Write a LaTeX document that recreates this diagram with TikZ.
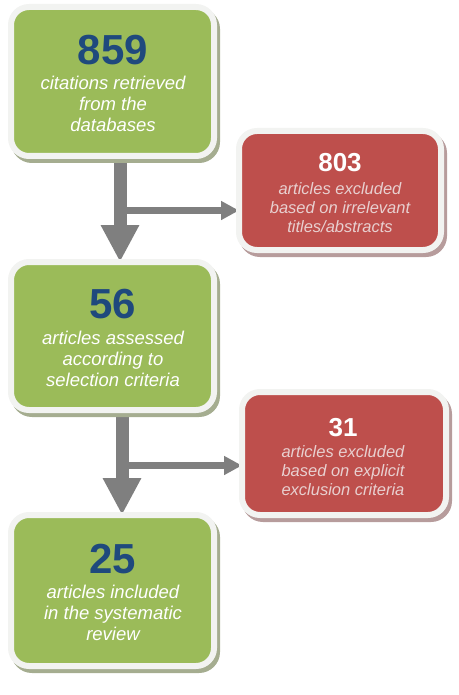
\documentclass[tikz,border=0pt]{standalone}
\usepackage{fontspec}
\setmainfont{Liberation Sans}
\usetikzlibrary{arrows.meta,shadows}
\pgfdeclarelayer{background}
\pgfsetlayers{background,main}
\definecolor{boxgreen}{HTML}{9BBB59}
\definecolor{boxred}{HTML}{BE4F4C}
\definecolor{frame}{HTML}{F2F3F1}
\definecolor{gshadow}{HTML}{A5AD90}
\definecolor{rshadow}{HTML}{B79C9C}
\definecolor{numblue}{HTML}{1F497D}
\definecolor{arrowgrey}{HTML}{7F7F7F}
\definecolor{redtext}{HTML}{E8D0D0}
\tikzset{
  box/.style={rectangle, rounded corners=18pt, line width=6pt, draw=frame, outer sep=0pt, inner sep=0pt},
  greenbox/.style={box, fill=boxgreen, drop shadow={shadow xshift=3pt, shadow yshift=-4pt, fill=gshadow, draw=gshadow, line width=6pt, opacity=1}},
  redbox/.style={box, fill=boxred, drop shadow={shadow xshift=3pt, shadow yshift=-4pt, fill=rshadow, draw=rshadow, line width=6pt, opacity=1}},
  gnum/.style={font=\fontsize{42}{42}\selectfont\bfseries, text=numblue, anchor=base, inner sep=0pt},
  rnum/.style={font=\fontsize{26}{26}\selectfont\bfseries, text=white, anchor=base, inner sep=0pt},
  gdesc/.style={font=\fontsize{18.5}{21}\selectfont\itshape, text=white, align=center, anchor=base, inner sep=0pt},
  rdesc/.style={font=\fontsize{16.5}{19}\selectfont\itshape, text=redtext, align=center, anchor=base, inner sep=0pt},
  bigarrow/.style={draw=arrowgrey, line width=13pt, -{Triangle[length=37pt,width=36pt]}, arrowgrey},
  sidearrow/.style={draw=arrowgrey, line width=7pt, -{Triangle[length=18pt,width=18pt]}, arrowgrey},
}
\begin{document}
\begin{tikzpicture}[x=1pt,y=1pt]
\useasboundingbox (0,0) rectangle (458,-695);
% coordinates for connectors
\coordinate (s1) at (120,-150);
\coordinate (j1) at (120,-210.5);
\coordinate (s2) at (122,-405);
\coordinate (j2) at (122,-465.5);
% boxes
\node[greenbox, minimum width=203pt, minimum height=149pt] (b1) at (112.5,-81.5) {};
\node[greenbox, minimum width=203pt, minimum height=148pt] (b2) at (112.5,-336) {};
\node[greenbox, minimum width=203pt, minimum height=151pt] (b3) at (112.5,-590.5) {};
\node[redbox, minimum width=202pt, minimum height=119pt] (r1) at (340,-190.5) {};
\node[redbox, minimum width=204pt, minimum height=123pt] (r2) at (344,-453.5) {};
% arrows behind the boxes
\begin{pgfonlayer}{background}
\draw[bigarrow] (s1) -- (s1 |- b2.north);
\draw[sidearrow] (j1) -- (j1 -| r1.west);
\draw[bigarrow] (s2) -- (s2 |- b3.north);
\draw[sidearrow] (j2) -- (j2 -| r2.west);
\end{pgfonlayer}
% texts
\node[gnum] (n1) at (113,-65) {859};
\node[gdesc] (d1) at (113,-132) {citations retrieved\\from the\\databases};
\node[rnum] (n2) at (340,-171.5) {803};
\node[rdesc] (d2) at (340,-232) {articles excluded\\based on irrelevant\\titles/abstracts};
\node[gnum] (n3) at (113,-318) {56};
\node[gdesc] (d3) at (113,-386) {articles assessed\\according to\\selection criteria};
\node[rnum] (n4) at (343,-436) {31};
\node[rdesc] (d4) at (343,-495.5) {articles excluded\\based on explicit\\exclusion criteria};
\node[gnum] (n5) at (113,-573) {25};
\node[gdesc] (d5) at (113,-640) {articles included\\in the systematic\\review};
\end{tikzpicture}
\end{document}
